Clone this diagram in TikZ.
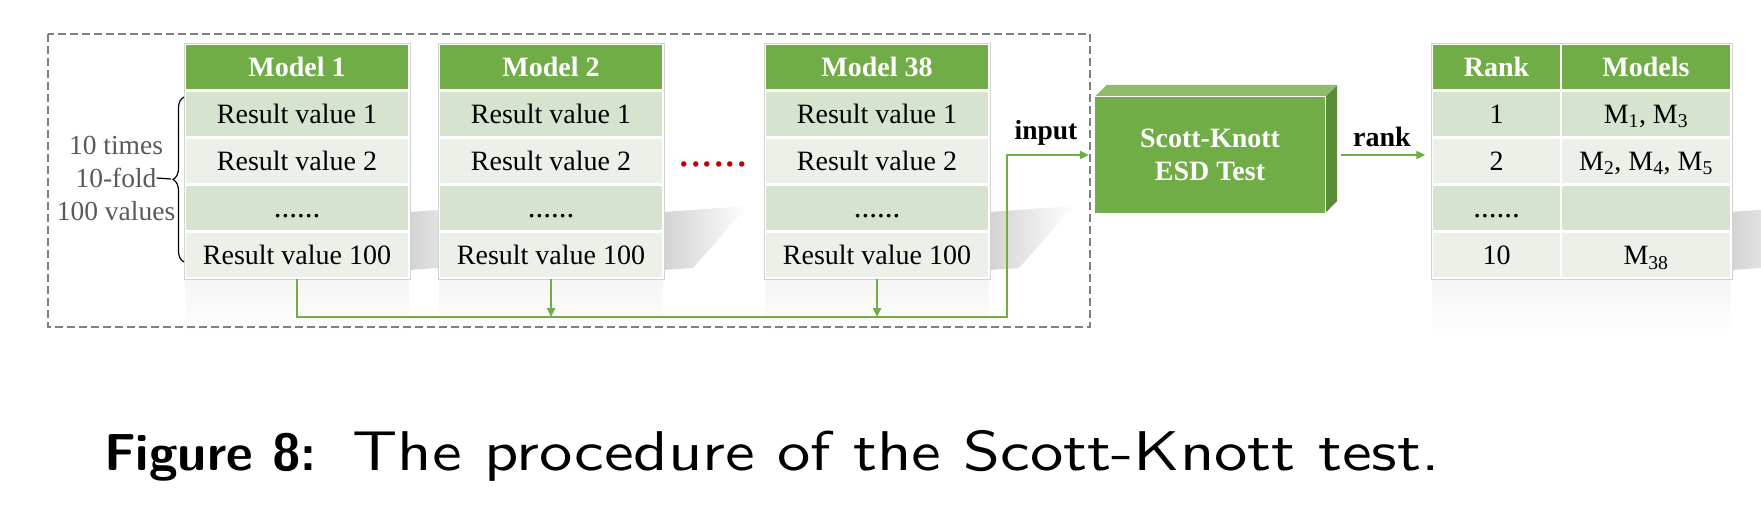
\documentclass[tikz,border=0pt]{standalone}
\usepackage{fontspec}
\usepackage{graphicx}
\setmainfont{Liberation Serif}
\newfontfamily\capfont{lmsans10-regular.otf}[BoldFont=lmsans10-bold.otf]
\usetikzlibrary{positioning,arrows.meta,decorations.pathreplacing}

\definecolor{skgreen}{HTML}{70AD47}
\definecolor{sktop}{HTML}{8EBB6C}
\definecolor{skside}{HTML}{5A8C38}
\definecolor{rowdark}{HTML}{D6E3CF}
\definecolor{rowlight}{HTML}{EBF0E8}
\definecolor{labelgray}{HTML}{595959}
\definecolor{framegray}{HTML}{7F7F7F}
\definecolor{dotred}{HTML}{C00000}

\begin{document}
\begin{tikzpicture}[x=1pt, y=-1pt,
    hdrcell/.style={rectangle, draw=white, line width=1.5pt, fill=skgreen, text=white,
        font=\fontsize{28}{30}\selectfont\bfseries, minimum height=45.6pt, inner sep=0pt,
        text height=19pt, text depth=0pt},
    oddcell/.style={hdrcell, fill=rowdark, text=black, font=\fontsize{28}{30}\selectfont},
    evencell/.style={oddcell, fill=rowlight},
    flowline/.style={draw=skgreen, line width=2.3pt},
    flowarrow/.style={-{Triangle[length=9pt,width=8pt]}},
    skbox/.style={rectangle, fill=skgreen, text=white, minimum width=230pt, minimum height=116pt,
        font=\fontsize{28}{33}\selectfont\bfseries, align=center},
    bracelbl/.style={text=labelgray, font=\fontsize{27.5}{30}\selectfont, inner sep=0pt}
    ]
    \useasboundingbox (0,0) rectangle (1761,509);

    % shadows and reflections
    \foreach \cx/\hw in {297/112, 551/112, 877/112, 1581.5/149.5} {
        \shade[left color=gray!35, right color=white] (\cx+\hw,212) -- (\cx+\hw+85,206) -- (\cx+\hw+30,268) -- (\cx+\hw,270) -- cycle;
        \shade[top color=gray!9, bottom color=white] (\cx-\hw,273) rectangle (\cx+\hw,335);
    }

    \draw[framegray, line width=2pt, dash pattern=on 8pt off 4pt] (48,34) rectangle (1090,327);

    % model tables
    \foreach \m/\cx in {1/297, 2/551, 38/877} {
        \node[hdrcell, minimum width=224pt] (m\m h) at (\cx,66.8) {Model \m};
        \node[oddcell, minimum width=224pt, below=0pt of m\m h] (m\m r1) {Result value 1};
        \node[evencell, minimum width=224pt, below=0pt of m\m r1] (m\m r2) {Result value 2};
        \node[oddcell, minimum width=224pt, below=0pt of m\m r2] (m\m r3) {\fontsize{31}{31}\selectfont......};
        \node[evencell, minimum width=224pt, below=0pt of m\m r3] (m\m r4) {Result value 100};
        \draw[gray!35] (m\m h.north west) rectangle (m\m r4.south east);
    }

    \node[text=dotred, font=\fontsize{46}{46}\selectfont, inner sep=0pt] (gap) at (713,164) {......};

    % brace
    \node[bracelbl] (times) at (116,145) {10 times};
    \node[bracelbl] (fold) at (116,178) {10-fold};
    \node[bracelbl] (vals) at (116,211) {100 values};
    \coordinate (bracetip) at (171,179);
    \draw[line width=1.2pt, decorate, decoration={brace, amplitude=11pt}] (184,262) -- (184,97);
    \draw[line width=1.2pt] (fold.east) -- (bracetip);

    % Scott-Knott box
    \node[skbox] (sk) at (1210,155) {Scott-Knott\\ESD Test};
    \fill[sktop] (sk.north west) -- ++(12,-12) -- ++(230,0) -- (sk.north east) -- cycle;
    \fill[skside] (sk.north east) -- ++(12,-12) -- ++(0,116) -- (sk.south east) -- cycle;
    \draw[white, line width=0.8pt] (sk.north west) -- (sk.north east) -- (sk.south east);

    % connectors
    \coordinate (bend) at (1007,317);
    \draw[flowline, flowarrow, shorten >=6pt] (m1r4.south) |- (bend) |- (sk.west);
    \draw[flowline, flowarrow] (m2r4.south) -- (m2r4.south |- bend);
    \draw[flowline, flowarrow] (m38r4.south) -- (m38r4.south |- bend);
    \node[font=\fontsize{27.5}{30}\selectfont\bfseries] (input) at (1046,133) {input};

    % rank table
    \node[hdrcell, minimum width=129pt] (rkh) at (1496.5,66.8) {Rank};
    \node[hdrcell, minimum width=170pt] (mdh) at (1646,66.8) {Models};
    \node[oddcell, minimum width=129pt, below=0pt of rkh] (rk1) {1};
    \node[evencell, minimum width=129pt, below=0pt of rk1] (rk2) {2};
    \node[oddcell, minimum width=129pt, below=0pt of rk2] (rk3) {\fontsize{31}{31}\selectfont......};
    \node[evencell, minimum width=129pt, below=0pt of rk3] (rk4) {10};
    \node[oddcell, minimum width=170pt, below=0pt of mdh] (md1) {M\textsubscript{1}, M\textsubscript{3}};
    \node[evencell, minimum width=170pt, below=0pt of md1] (md2) {M\textsubscript{2}, M\textsubscript{4}, M\textsubscript{5}};
    \node[oddcell, minimum width=170pt, below=0pt of md2] (md3) {};
    \node[evencell, minimum width=170pt, below=0pt of md3] (md4) {M\textsubscript{38}};
    \draw[gray!35] (rkh.north west) rectangle (md4.south east);

    \draw[flowline, flowarrow, shorten <=16pt, shorten >=6pt] (sk.east) -- (sk.east -| rkh.west);
    \node[font=\fontsize{28}{30}\selectfont\bfseries] (rank) at (1382,137) {rank};

    % caption
    \node[font=\capfont\fontsize{52}{60}\selectfont, anchor=base west, inner sep=0pt] (cap) at (104,470)
        {\textbf{Figure 8:}\hspace{36pt}\scalebox{1.19}[1]{\fontsize{56}{60}\selectfont The procedure of the Scott-Knott test.}};
\end{tikzpicture}
\end{document}
